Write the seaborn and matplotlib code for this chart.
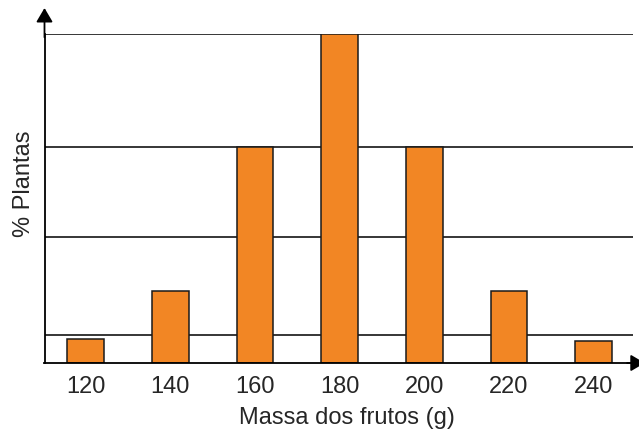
import numpy as np
import matplotlib
matplotlib.use('Agg')
import matplotlib.pyplot as plt
import seaborn as sns
import pandas as pd

# dados (escala de % sem rótulos)
massas = [120, 140, 160, 180, 200, 220, 240]
plantas = [2.5, 7.5, 22.5, 34.3, 22.5, 7.5, 2.3]
linhas_grade = [2.9, 13.1, 22.5, 34.3]

df = pd.DataFrame({'massa': massas, 'plantas': plantas})

sns.set_style('white')
plt.rcParams['font.family'] = ['Liberation Sans', 'DejaVu Sans']

fig = plt.figure(figsize=(6.39, 4.36), dpi=100)
ax = fig.add_axes([44.5 / 639, 73 / 436, (633 - 44.5) / 639, 329 / 436])

for y in linhas_grade:
    ax.axhline(y, color='black', lw=1.1, zorder=1)

ax.bar(df['massa'], df['plantas'], width=8.7, color='#F28624',
       edgecolor='#1a1a1a', linewidth=1.1, zorder=2)

ax.set_xlim(110.3, 249.3)
ax.set_ylim(0, 34.3)
ax.set_xticks(massas)
ax.set_xticklabels([str(m) for m in massas], fontsize=17)
ax.set_yticks([])
ax.tick_params(axis='x', length=0, pad=9)

for s in ['top', 'right']:
    ax.spines[s].set_visible(False)
for s in ['left', 'bottom']:
    ax.spines[s].set_color('black')
    ax.spines[s].set_linewidth(1.3)

ax.set_xlabel('Massa dos frutos (g)', fontsize=17)
ax.set_ylabel('% Plantas', fontsize=17)
ax.xaxis.set_label_coords((347 - 44.5) / 588.5, -(418 - 363) / 329)
ax.yaxis.set_label_coords(-(44.5 - 24) / 588.5, (363 - 184) / 329)
ax.xaxis.label.set_va('center')
ax.yaxis.label.set_va('center')

# setas dos eixos
estilo = '-|>,head_length=0.85,head_width=0.5'
ax.annotate('', xy=(0, 1.079), xytext=(0, 0.99), xycoords='axes fraction',
            arrowprops=dict(arrowstyle=estilo, mutation_scale=10,
                            color='black', lw=1.3, shrinkA=0, shrinkB=0))
ax.annotate('', xy=(1.02, 0), xytext=(0.99, 0), xycoords='axes fraction',
            arrowprops=dict(arrowstyle=estilo, mutation_scale=10,
                            color='black', lw=1.3, shrinkA=0, shrinkB=0))

fig.savefig('out.png', dpi=100)
